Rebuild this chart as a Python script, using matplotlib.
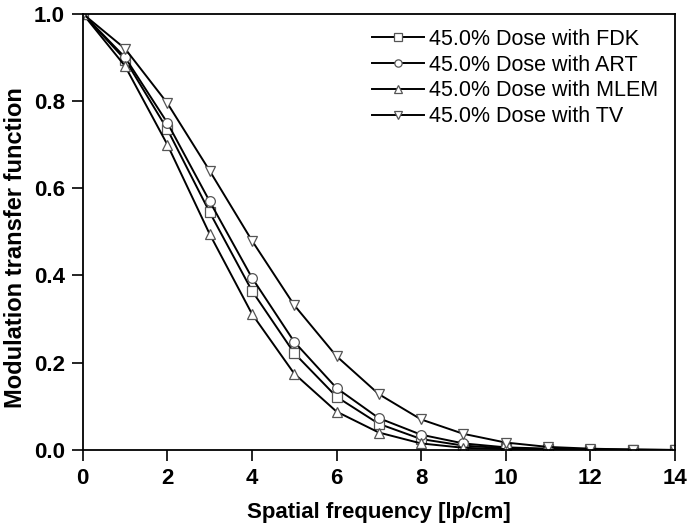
import matplotlib
matplotlib.use("Agg")
import matplotlib.pyplot as plt
from matplotlib.font_manager import FontProperties

freq = list(range(0, 15))
fdk = [1.0, 0.895, 0.735, 0.545, 0.365, 0.222, 0.122, 0.060, 0.025, 0.010, 0.004, 0.002, 0.001, 0.0005, 0.0]
art = [1.0, 0.900, 0.750, 0.570, 0.395, 0.248, 0.142, 0.073, 0.035, 0.015, 0.006, 0.003, 0.001, 0.0005, 0.0]
mlem = [1.0, 0.880, 0.700, 0.495, 0.312, 0.175, 0.088, 0.040, 0.015, 0.005, 0.002, 0.001, 0.0005, 0.0, 0.0]
tv = [1.0, 0.920, 0.795, 0.640, 0.480, 0.332, 0.215, 0.128, 0.070, 0.037, 0.017, 0.007, 0.003, 0.001, 0.0]

labels = ["45.0% Dose with FDK", "45.0% Dose with ART",
          "45.0% Dose with MLEM", "45.0% Dose with TV"]
markers = ["s", "o", "^", "v"]

plt.rcParams["font.family"] = ["Liberation Sans", "DejaVu Sans"]

fig = plt.figure(figsize=(6.9, 5.3), dpi=100)
ax = fig.add_axes([0.120, 0.151, 0.858, 0.823])

for ys, m, lab in zip([fdk, art, mlem, tv], markers, labels):
    ax.plot(freq, ys, color="black", lw=1.4, marker=m, markersize=7,
            markerfacecolor="white", markeredgecolor="#555555",
            markeredgewidth=0.9, label=lab)

ax.set_xlim(0, 14)
ax.set_ylim(0, 1.0)
ax.set_xticks(range(0, 15, 2))
ax.set_yticks([0.0, 0.2, 0.4, 0.6, 0.8, 1.0])
ax.set_yticklabels(["0.0", "0.2", "0.4", "0.6", "0.8", "1.0"])

tick_fp = FontProperties(family=["Liberation Sans Narrow", "Liberation Sans", "DejaVu Sans"],
                         weight="bold", size=16)
for t in ax.get_xticklabels() + ax.get_yticklabels():
    t.set_fontproperties(tick_fp)

ax.tick_params(direction="out", length=8, width=1.2, pad=5)
for s in ax.spines.values():
    s.set_linewidth(1.3)

ax.set_xlabel("Spatial frequency [lp/cm]", fontsize=16, fontweight="bold", labelpad=9)
ax.set_ylabel("Modulation transfer function", fontsize=17, fontweight="bold", labelpad=10)
ax.yaxis.set_label_coords(-0.095, 0.463)

ax.legend(loc="upper right", frameon=False, fontsize=15.5, handlelength=2.4,
          handletextpad=0.25, labelspacing=0.22, markerscale=0.75,
          bbox_to_anchor=(0.998, 1.0), borderaxespad=0.3)

fig.savefig("out.png", dpi=100)
